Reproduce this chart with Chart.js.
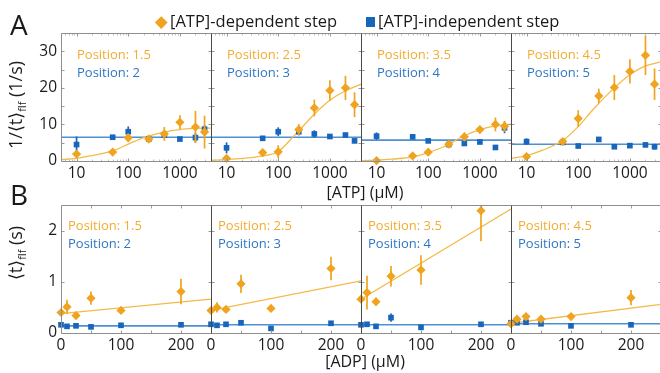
<!DOCTYPE html>
<html><head><meta charset="utf-8">
<script src="https://cdn.jsdelivr.net/npm/chart.js@4.4.0/dist/chart.umd.min.js"></script>
<style>
html,body{margin:0;padding:0;background:#fff;overflow:hidden;width:660px;height:373px;}
#wrap{position:relative;width:660px;height:373px;overflow:hidden;font-family:"Open Sans",sans-serif;color:#1a1a1a;}
canvas{position:absolute;left:0;}
#cA{top:0;}
#cB{top:185px;}
.t{position:absolute;white-space:nowrap;line-height:1;}
.ctr{transform:translateX(-50%);}
.rot{transform:translate(-50%,-50%) rotate(-90deg);}
sub{font-size:0.6em;vertical-align:-0.3em;}
</style></head><body>
<div id="wrap">
<canvas id="cA" width="680" height="185" style="width:680px;height:185px"></canvas>
<canvas id="cB" width="680" height="172" style="width:680px;height:172px"></canvas>
<div class="t" style="left:10px;top:10px;font-size:28px;">A</div>
<div class="t" style="left:10px;top:180px;font-size:28px;">B</div>
<div style="position:absolute;left:157px;top:18px;width:8.5px;height:8.5px;background:#F0A31E;transform:rotate(45deg);"></div>
<div class="t" style="left:170px;top:13px;font-size:16.5px;">[ATP]-dependent step</div>
<div style="position:absolute;left:366px;top:17px;width:9px;height:10px;background:#1766BC;"></div>
<div class="t" style="left:378px;top:13px;font-size:16.5px;">[ATP]-independent step</div>
<div class="t ctr" style="left:365px;top:184px;font-size:16px;">[ATP] (µM)</div>
<div class="t ctr" style="left:365px;top:353px;font-size:16px;">[ADP] (µM)</div>
<div class="t rot" style="left:17px;top:105px;font-size:18px;">1/⟨t⟩<sub>flf</sub> (1/s)</div>
<div class="t rot" style="left:17px;top:253px;font-size:18px;">⟨t⟩<sub>flf</sub> (s)</div>
</div>
<script>
// ---------------- data ----------------
const atpConc = [10, 50, 100, 250, 500, 1000, 2000, 3000];
const adpConc = [0, 10, 25, 50, 100, 200];
const posDep = ['1.5', '2.5', '3.5', '4.5'];
const posIndep = ['2', '3', '4', '5'];

const atpDepRate = [
  [1.9, 2.45, 6.35, 6.0, 7.4, 10.6, 9.3, 7.9],
  [0.7, 2.3, 2.5, 8.6, 14.5, 19.3, 20.0, 15.4],
  [0.1, 1.4, 2.4, 4.6, 6.6, 8.6, 10.0, 9.5],
  [1.2, 5.3, 11.6, 17.8, 20.1, 24.5, 28.9, 21.0]
];
const atpDepErr = [
  [0.7, 0.6, 1.1, 0.8, 1.9, 1.9, 4.4, 4.5],
  [0.5, 1.0, 1.8, 1.5, 2.3, 2.8, 3.3, 3.4],
  [0.3, 0.5, 0.9, 0.6, 1.2, 1.0, 1.9, 1.5],
  [0.4, 0.6, 2.3, 2.0, 3.4, 3.3, 5.4, 4.3]
];
const atpIndepRate = [
  [4.5, 6.5, 8.0, 6.0, 7.1, 6.0, 6.4, 8.7],
  [3.6, 6.2, 8.0, 8.0, 7.4, 6.7, 7.1, 5.5],
  [6.8, 6.6, 5.5, 4.5, 4.8, 5.2, 3.7, 9.1],
  [5.3, 5.1, 4.1, 5.9, 3.9, 4.2, 4.4, 3.9]
];
const atpIndepErr = [
  [2.2, 0.6, 1.45, 0.6, 0.9, 0.5, 1.3, 1.1],
  [1.5, 0.4, 1.2, 1.0, 1.0, 0.4, 0.5, 0.6],
  [1.0, 0.4, 0.5, 0.8, 0.4, 0.4, 0.5, 1.5],
  [0.9, 0.3, 0.3, 0.3, 0.3, 0.5, 0.4, 0.8]
];
const atpFitConc = [5, 10, 20, 50, 100, 200, 500, 1000, 2000, 4000];
const atpDepFit = [
  [0.4, 0.7, 1.5, 2.8, 4.6, 6.4, 7.9, 8.6, 8.9, 9.0],
  [0.2, 0.4, 0.7, 1.4, 2.6, 6.8, 12.8, 16.6, 19.2, 21.0],
  [0.05, 0.2, 0.5, 1.1, 2.3, 3.9, 6.9, 8.6, 9.6, 10.1],
  [0.7, 1.5, 2.9, 5.6, 9.4, 14.3, 20.0, 23.6, 26.0, 27.1]
];
const atpIndepFit = [6.5, 6.5, 5.7, 4.6];

const adpDepTime = [
  [0.40, 0.51, 0.34, 0.68, 0.44, 0.81],
  [0.44, 0.50, 0.46, 0.96, 0.48, 1.26],
  [0.66, 0.79, 0.61, 1.11, 1.23, 2.39],
  [0.18, 0.27, 0.32, 0.27, 0.32, 0.69]
];
const adpDepErr = [
  [0.05, 0.14, 0.05, 0.13, 0.06, 0.25],
  [0.05, 0.10, 0.05, 0.18, 0.06, 0.23],
  [0.06, 0.33, 0.08, 0.20, 0.29, 0.60],
  [0.02, 0.04, 0.05, 0.03, 0.04, 0.15]
];
const adpIndepTime = [
  [0.16, 0.13, 0.14, 0.12, 0.15, 0.16],
  [0.17, 0.15, 0.17, 0.20, 0.09, 0.19],
  [0.16, 0.17, 0.13, 0.30, 0.11, 0.17],
  [0.20, 0.20, 0.21, 0.18, 0.14, 0.16]
];
const adpIndepErr = [
  [0.02, 0.02, 0.02, 0.02, 0.02, 0.02],
  [0.02, 0.02, 0.02, 0.03, 0.02, 0.02],
  [0.02, 0.02, 0.02, 0.08, 0.02, 0.02],
  [0.02, 0.02, 0.02, 0.02, 0.02, 0.02]
];
const adpFitConc = [0, 250];
const adpDepFit = [[0.38, 0.66], [0.44, 1.02], [0.66, 2.42], [0.19, 0.56]];
const adpIndepFit = [0.14, 0.16, 0.16, 0.18];

// tick labels / tick marks
const atpTicks = [10, 100, 1000];
const atpMinorTicks = [6, 7, 8, 9, 20, 30, 40, 50, 60, 70, 80, 90, 200, 300, 400, 500, 600, 700, 800, 900, 2000, 3000];
const rateTicks = [0, 10, 20, 30];
const rateInnerTicks = [5, 10, 15, 20, 25, 30];
const adpTicks = [0, 100, 200];
const adpInnerTicks = [50, 100, 150, 200];
const timeTicks = [0, 1, 2];
const timeInnerTicks = [1, 2];

// ---------------- styling ----------------
const ORANGE = '#F0A31E', BLUE = '#1766BC';
const ORANGE_LINE = '#F4BA48', BLUE_LINE = '#4E90D4';
const ORANGE_TXT = '#F2AC30', BLUE_TXT = '#2E76C4';
Chart.defaults.font.family = '"Open Sans", sans-serif';
Chart.defaults.color = '#1a1a1a';

const decor = {
  id: 'decor',
  beforeDatasetDraw(chart, args) {
    const ds = chart.data.datasets[args.index];
    if (!ds.errors) return;
    const xs = chart.scales[ds.xAxisID], ys = chart.scales.y, ca = chart.chartArea, ctx = chart.ctx;
    ctx.save();
    ctx.beginPath(); ctx.rect(ca.left, ca.top, ca.right - ca.left, ca.bottom - ca.top); ctx.clip();
    ctx.strokeStyle = ds.errColor; ctx.lineWidth = 1.7;
    ds.data.forEach((p, j) => {
      const e = ds.errors[j]; if (!e) return;
      const px = xs.getPixelForValue(p.x);
      ctx.beginPath();
      ctx.moveTo(px, ys.getPixelForValue(p.y - e));
      ctx.lineTo(px, ys.getPixelForValue(p.y + e));
      ctx.stroke();
    });
    ctx.restore();
  },
  afterDraw(chart, args, o) {
    const ctx = chart.ctx, ca = chart.chartArea, ys = chart.scales.y;
    const T = Math.round(ca.top) + 0.5, B = Math.round(ca.bottom) + 0.5;
    const seg = (a, b, c, d) => { ctx.beginPath(); ctx.moveTo(a, b); ctx.lineTo(c, d); ctx.stroke(); };
    o.xIds.forEach((id, k) => {
      const xs = chart.scales[id];
      const L = Math.round(xs.left) + 0.5, R = Math.round(xs.right) + 0.5;
      ctx.save();
      ctx.lineWidth = 1;
      ctx.strokeStyle = '#9a9a9a';
      o.yInner.forEach(v => { const py = Math.round(ys.getPixelForValue(v)) + 0.5; seg(L, py, L + 3, py); seg(R - 3, py, R, py); });
      o.xInner.forEach(v => { const px = Math.round(xs.getPixelForValue(v)) + 0.5; seg(px, T, px, T + 3); seg(px, B - 3, px, B); });
      ctx.strokeStyle = '#c0c0c0';
      (o.xMinor || []).forEach(v => { const px = Math.round(xs.getPixelForValue(v)) + 0.5; seg(px, T, px, T + 2); seg(px, B - 2, px, B); });
      ctx.strokeStyle = '#8e8e8e';
      seg(L, T, R, T); seg(L, B, R, B); seg(R, T, R, B);
      ctx.strokeStyle = k === 0 ? '#8e8e8e' : '#4a4a4a';
      seg(L, T, L, B);
      ctx.font = '13px "Open Sans", sans-serif';
      ctx.textBaseline = 'alphabetic';
      ctx.fillStyle = ORANGE_TXT;
      ctx.fillText('Position: ' + o.dep[k], xs.left + o.lx, ca.top + o.ly1);
      ctx.fillStyle = BLUE_TXT;
      ctx.fillText('Position: ' + o.indep[k], xs.left + o.lx, ca.top + o.ly2);
      ctx.restore();
    });
  }
};

function panelSets(xId, xs, dep, depErr, indep, indepErr, fitXs, depFit, indepFit, smooth) {
  return [
    { xAxisID: xId, yAxisID: 'y', data: xs.map((x, j) => ({ x, y: dep[j] })), errors: depErr, errColor: ORANGE,
      pointStyle: 'rectRot', pointRadius: 4.6, backgroundColor: ORANGE, borderColor: ORANGE, borderWidth: 0, order: 0, clip: false },
    { xAxisID: xId, yAxisID: 'y', data: xs.map((x, j) => ({ x, y: indep[j] })), errors: indepErr, errColor: BLUE,
      pointStyle: 'rect', pointRadius: 4, backgroundColor: BLUE, borderColor: BLUE, borderWidth: 0, order: 0, clip: false },
    { xAxisID: xId, yAxisID: 'y', showLine: true, data: fitXs.map((x, j) => ({ x, y: depFit[j] })), pointRadius: 0,
      borderColor: ORANGE_LINE, borderWidth: 1.3, cubicInterpolationMode: smooth ? 'monotone' : 'default', order: 1 },
    { xAxisID: xId, yAxisID: 'y', showLine: true, data: [{ x: fitXs[0], y: indepFit }, { x: fitXs[fitXs.length - 1], y: indepFit }],
      pointRadius: 0, borderColor: BLUE_LINE, borderWidth: 1.6, order: 1 }
  ];
}

function makeRow(id, r) {
  const xIds = ['x1', 'x2', 'x3', 'x4'];
  const scales = {
    y: {
      type: 'linear', position: 'left', min: r.yMin, max: r.yMax,
      afterFit(s) { s.width = 61; },
      afterBuildTicks(s) { s.ticks = r.yTicks.map(v => ({ value: v })); },
      grid: { display: false, drawTicks: false }, border: { display: false },
      ticks: { padding: 4, font: { size: 15.5 }, color: '#1a1a1a', callback: v => String(v) }
    }
  };
  let datasets = [];
  xIds.forEach((xid, k) => {
    scales[xid] = {
      type: r.xType, position: 'bottom', stack: 'row', stackWeight: 1, min: r.xMin, max: r.xMax, offset: false,
      afterFit(s) { s.height = 24; },
      afterBuildTicks(s) { s.ticks = r.xTicks.map(v => ({ value: v })); },
      grid: { display: false, drawTicks: false }, border: { display: false },
      ticks: { padding: 3, autoSkip: false, maxRotation: 0, font: { size: 15.5 }, color: '#1a1a1a', callback: v => String(v) }
    };
    datasets = datasets.concat(panelSets(xid, r.xs, r.dep[k], r.depErr[k], r.indep[k], r.indepErr[k], r.fitXs, r.depFit[k], r.indepFit[k], r.smooth));
  });
  new Chart(document.getElementById(id), {
    type: 'scatter',
    data: { datasets },
    options: {
      responsive: false, animation: false, devicePixelRatio: 1, events: [],
      layout: { padding: { top: r.padTop, left: 0, right: 19, bottom: 0 } },
      plugins: {
        legend: { display: false }, tooltip: { enabled: false },
        decor: { xIds, dep: posDep, indep: posIndep, lx: r.lx, ly1: r.ly1, ly2: r.ly2, yInner: r.yInner, xInner: r.xInner, xMinor: r.xMinor }
      },
      scales
    },
    plugins: [decor]
  });
}

makeRow('cA', {
  padTop: 33, yMin: 0, yMax: 35, yTicks: rateTicks, xType: 'logarithmic', xMin: 5, xMax: 4000, xTicks: atpTicks,
  xs: atpConc, dep: atpDepRate, depErr: atpDepErr, indep: atpIndepRate, indepErr: atpIndepErr,
  fitXs: atpFitConc, depFit: atpDepFit, indepFit: atpIndepFit, smooth: true,
  lx: 16, ly1: 26, ly2: 44, yInner: rateInnerTicks, xInner: atpTicks, xMinor: atpMinorTicks
});
makeRow('cB', {
  padTop: 20, yMin: 0, yMax: 2.5, yTicks: timeTicks, xType: 'linear', xMin: 0, xMax: 250, xTicks: adpTicks,
  xs: adpConc, dep: adpDepTime, depErr: adpDepErr, indep: adpIndepTime, indepErr: adpIndepErr,
  fitXs: adpFitConc, depFit: adpDepFit, indepFit: adpIndepFit, smooth: false,
  lx: 7, ly1: 24.5, ly2: 43, yInner: timeInnerTicks, xInner: adpInnerTicks, xMinor: []
});
</script>
</body></html>
